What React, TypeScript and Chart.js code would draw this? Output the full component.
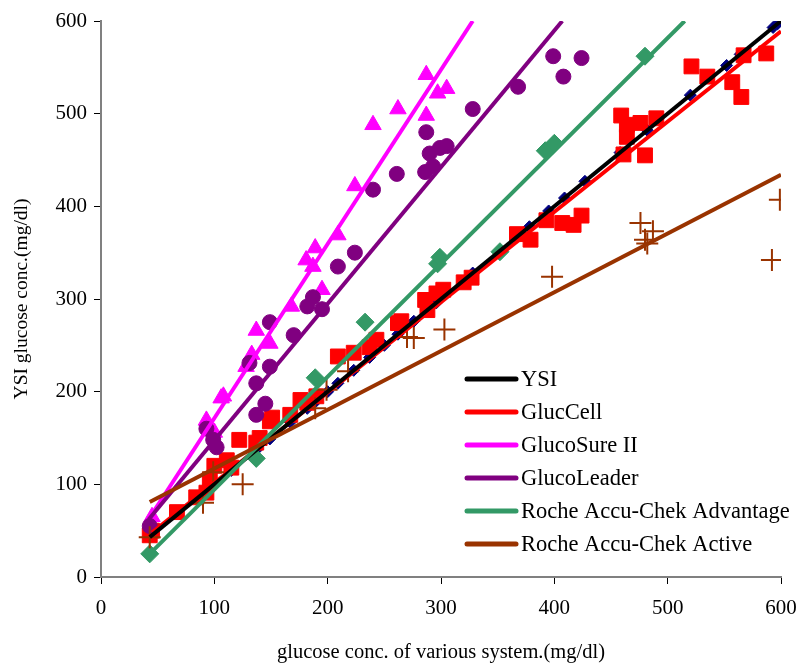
import React, { useEffect, useRef } from "react";
import { Chart, registerables } from "chart.js";

Chart.register(...registerables);

// ---------- data ----------
const seriesNames = [
  "YSI",
  "GlucCell",
  "GlucoSure II",
  "GlucoLeader",
  "Roche Accu-Chek Advantage",
  "Roche Accu-Chek Active",
];
const seriesColors = ["#000000", "#FF0000", "#FF00FF", "#800080", "#339966", "#993300"];
const ysiMarkerColor = "#000080";

const xTickValues = [0, 100, 200, 300, 400, 500, 600];
const yTickValues = [0, 100, 200, 300, 400, 500, 600];

const xTitle = "glucose conc. of various system.(mg/dl)";
const yTitle = "YSI glucose conc.(mg/dl)";

// YSI reference readings (on the identity line)
const ysiPoints: [number, number][] = [
  [43, 43], [90, 90], [100, 100], [115, 115], [137, 137], [149, 149], [167, 167],
  [182, 182], [190, 190], [200, 200], [209, 209], [223, 223], [237, 237], [250, 250],
  [262, 262], [276, 276], [296, 296], [328, 328], [352, 352], [378, 378], [395, 395],
  [409, 409], [427, 427], [458, 458], [482, 482], [520, 520], [552, 552], [564, 564],
  [593, 593], [597, 597],
];

const glucCellPoints: [number, number][] = [
  [43, 45], [45, 50], [67, 70], [84, 86], [93, 91], [96, 105], [100, 120], [111, 126],
  [115, 118], [122, 148], [137, 145], [140, 150], [149, 168], [151, 172], [167, 175],
  [176, 191], [182, 188], [190, 195], [209, 238], [223, 242], [237, 248], [243, 256],
  [262, 274], [265, 276], [286, 299], [288, 288], [296, 306], [302, 310], [320, 318],
  [327, 323], [367, 370], [379, 364], [393, 385], [407, 382], [417, 380], [424, 390],
  [459, 498], [464, 488], [476, 490], [490, 495], [464, 475], [461, 456], [480, 455],
  [521, 551], [535, 540], [557, 534], [565, 518], [567, 563], [587, 565],
];

const glucoSurePoints: [number, number][] = [
  [45, 65], [93, 169], [100, 156], [106, 193], [108, 195], [128, 227], [133, 240],
  [137, 266], [149, 252], [168, 292], [181, 342], [187, 335], [189, 355], [195, 310],
  [209, 369], [224, 422], [240, 488], [262, 505], [287, 542], [287, 498], [297, 522],
  [305, 527],
];

const glucoLeaderPoints: [number, number][] = [
  [43, 55], [93, 160], [99, 148], [102, 140], [137, 175], [137, 209], [145, 187],
  [131, 231], [149, 227], [149, 275], [170, 261], [182, 292], [187, 302], [195, 289],
  [209, 335], [224, 350], [240, 418], [261, 435], [286, 437], [293, 443], [287, 480],
  [290, 457], [299, 463], [305, 465], [328, 505], [368, 529], [399, 562], [408, 540],
  [424, 560],
];

const advantagePoints: [number, number][] = [
  [43, 25], [137, 128], [189, 215], [233, 275], [297, 338], [299, 345], [352, 351],
  [392, 460], [400, 468], [480, 562],
];

const activePoints: [number, number][] = [
  [43, 43], [90, 80], [99, 113], [125, 100], [189, 182], [199, 202], [218, 222],
  [270, 259], [276, 258], [303, 267], [398, 324], [476, 382], [487, 373], [480, 364],
  [482, 360], [592, 342], [599, 407],
];

// linear trend lines (end points)
const ysiTrend: [number, number][] = [[43, 43], [600, 600]];
const glucCellTrend: [number, number][] = [[45, 48], [600, 589]];
const glucoSureTrend: [number, number][] = [[45, 68], [328, 600]];
const glucoLeaderTrend: [number, number][] = [[42, 62], [407, 600]];
const advantageTrend: [number, number][] = [[43, 25], [515, 600]];
const activeTrend: [number, number][] = [[43, 81], [600, 434]];

// ---------- helpers ----------
const FONT = "'Liberation Serif', 'Times New Roman', serif";
const toXY = (arr: [number, number][]) => arr.map(([x, y]) => ({ x, y }));

const legendPlugin = {
  id: "insideLegend",
  afterDatasetsDraw(chart: any) {
    const ctx = chart.ctx as CanvasRenderingContext2D;
    const area = chart.chartArea;
    const x0 = area.left + 366;
    const x1 = area.left + 415;
    const tx = area.left + 420;
    const y0 = area.top + 358;
    const step = 33;
    ctx.save();
    ctx.font = `22.5px ${FONT}`;
    ctx.textBaseline = "middle";
    ctx.textAlign = "left";
    seriesNames.forEach((name, i) => {
      const y = y0 + i * step;
      ctx.beginPath();
      ctx.strokeStyle = seriesColors[i];
      ctx.lineWidth = 5;
      ctx.lineCap = "round";
      ctx.moveTo(x0, y);
      ctx.lineTo(x1, y);
      ctx.stroke();
      ctx.fillStyle = "#000";
      ctx.fillText(name, tx, y + 1);
    });
    ctx.restore();
  },
};

export default function App() {
  const ref = useRef<HTMLCanvasElement | null>(null);

  useEffect(() => {
    if (!ref.current) return;

    const markerSets = [
      { data: ysiPoints, style: "rectRot", r: 6, color: ysiMarkerColor, bw: 1 },
      { data: glucCellPoints, style: "rect", r: 10.5, color: seriesColors[1], bw: 1 },
      { data: glucoSurePoints, style: "triangle", r: 9.5, color: seriesColors[2], bw: 1 },
      { data: glucoLeaderPoints, style: "circle", r: 7.5, color: seriesColors[3], bw: 1 },
      { data: advantagePoints, style: "rectRot", r: 9, color: seriesColors[4], bw: 1 },
      { data: activePoints, style: "cross", r: 11, color: seriesColors[5], bw: 2 },
    ];
    const trends = [ysiTrend, glucCellTrend, glucoSureTrend, glucoLeaderTrend, advantageTrend, activeTrend];
    const lineOrder = [4, 5, 3, 2, 1, 0];

    const datasets: any[] = [];
    markerSets.forEach((m, i) => {
      datasets.push({
        label: seriesNames[i] + " data",
        data: toXY(m.data),
        showLine: false,
        pointStyle: m.style,
        pointRadius: m.r,
        pointHoverRadius: m.r,
        pointBackgroundColor: m.color,
        pointBorderColor: m.color,
        pointBorderWidth: m.bw,
        order: 20 - i,
      });
    });
    trends.forEach((t, i) => {
      datasets.push({
        label: seriesNames[i],
        data: toXY(t),
        showLine: true,
        borderColor: seriesColors[i],
        borderWidth: 4,
        pointRadius: 0,
        pointHoverRadius: 0,
        fill: false,
        order: lineOrder[i],
      });
    });

    const chart = new Chart(ref.current, {
      type: "scatter",
      data: { datasets },
      plugins: [legendPlugin],
      options: {
        animation: false,
        responsive: false,
        devicePixelRatio: 1,
        events: [],
        layout: { padding: { top: 21, right: 20, left: 0, bottom: 0 } },
        plugins: {
          legend: { display: false },
          tooltip: { enabled: false },
          title: { display: false },
        },
        scales: {
          x: {
            type: "linear",
            min: 0,
            max: 600,
            afterFit: (s: any) => {
              s.height = 91;
              s.paddingLeft = 0;
              s.paddingRight = 0;
            },
            afterBuildTicks: (s: any) => {
              s.ticks = xTickValues.map((v) => ({ value: v }));
            },
            border: { display: true, color: "#808080", width: 2 },
            grid: {
              display: true,
              drawOnChartArea: false,
              drawTicks: true,
              tickLength: 7,
              color: "#000",
              lineWidth: 1,
            },
            ticks: {
              color: "#000",
              font: { family: FONT, size: 21 },
              padding: 12,
              maxRotation: 0,
            },
            title: {
              display: true,
              text: xTitle,
              color: "#000",
              font: { family: FONT, size: 20.5 },
              padding: { top: 0, bottom: 3 },
            },
          },
          y: {
            type: "linear",
            min: 0,
            max: 600,
            afterFit: (s: any) => {
              s.width = 101;
              s.paddingTop = 0;
              s.paddingBottom = 0;
            },
            afterBuildTicks: (s: any) => {
              s.ticks = yTickValues.map((v) => ({ value: v }));
            },
            border: { display: true, color: "#808080", width: 2 },
            grid: {
              display: true,
              drawOnChartArea: false,
              drawTicks: true,
              tickLength: 7,
              color: "#000",
              lineWidth: 1,
            },
            ticks: {
              color: "#000",
              font: { family: FONT, size: 21 },
              padding: 7,
            },
            title: {
              display: true,
              text: yTitle,
              color: "#000",
              font: { family: FONT, size: 19.5 },
              padding: { top: 10, bottom: 0 },
            },
          },
        },
      } as any,
    });

    return () => chart.destroy();
  }, []);

  return (
    <div style={{ position: "absolute", left: 0, top: 0, width: 801, height: 668, background: "#fff" }}>
      <canvas ref={ref} width={801} height={668} style={{ display: "block" }} />
    </div>
  );
}
